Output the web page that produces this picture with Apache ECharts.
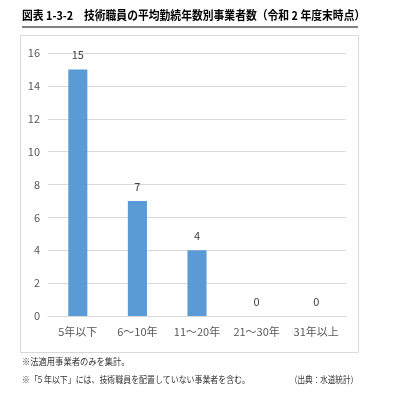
<!DOCTYPE html>
<html><head><meta charset="utf-8">
<script src="https://cdn.jsdelivr.net/npm/echarts@6/dist/echarts.min.js"></script>
<style>html,body{margin:0;padding:0;background:#fff}#c{width:400px;height:400px}</style>
</head><body><div id="c"></div>
<script>
const categories = ['5年以下', '6～10年', '11～20年', '21～30年', '31年以上'];
const values = [15, 7, 4, 0, 0];
const titleText = '図表 1-3-2　技術職員の平均勤続年数別事業者数（令和 2 年度末時点）';
const note1 = '※法適用事業者のみを集計。';
const note2 = '※「5 年以下」には、技術職員を配置していない事業者を含む。';
const source = '（出典：水道統計）';

const chart = echarts.init(document.getElementById('c'));
const font = '"Noto Sans CJK JP", sans-serif';
chart.setOption({
  animation: false,
  grid: { left: 48, right: 54, top: 53, bottom: 84 },
  xAxis: {
    type: 'category', data: categories,
    axisLine: { lineStyle: { color: '#d9d9d9' } },
    axisTick: { show: false },
    axisLabel: { color: '#595959', fontSize: 11, fontFamily: font, margin: 10, interval: 0 }
  },
  yAxis: {
    type: 'value', min: 0, max: 16, interval: 2,
    axisLine: { show: false }, axisTick: { show: false },
    splitLine: { lineStyle: { color: '#d9d9d9' } },
    axisLabel: { color: '#595959', fontSize: 11, fontFamily: font, margin: 8 }
  },
  series: [{
    type: 'bar', data: values, barWidth: '32%',
    itemStyle: { color: '#5b9bd5' },
    label: { show: true, position: 'top', distance: 9, color: '#404040', fontSize: 11, fontFamily: font }
  }],
  graphic: [
    { type: 'text', x: 22, y: 9, scaleX: 0.9, style: { text: titleText, font: 'bold 12px ' + font, fill: '#000' } },
    { type: 'line', shape: { x1: 22, y1: 27, x2: 358, y2: 27 }, style: { stroke: '#000', lineWidth: 1 } },
    { type: 'rect', shape: { x: 20.5, y: 35.5, width: 338, height: 317 }, style: { fill: 'none', stroke: '#d9d9d9', lineWidth: 1 } },
    { type: 'text', x: 22, y: 357, scaleX: 0.92, style: { text: note1, font: '9px ' + font, fill: '#333' } },
    { type: 'text', x: 22, y: 375, scaleX: 0.88, style: { text: note2, font: '9px ' + font, fill: '#333' } },
    { type: 'text', x: 290, y: 375, scaleX: 0.84, style: { text: source, font: '9px ' + font, fill: '#333' } }
  ]
});
</script></body></html>
